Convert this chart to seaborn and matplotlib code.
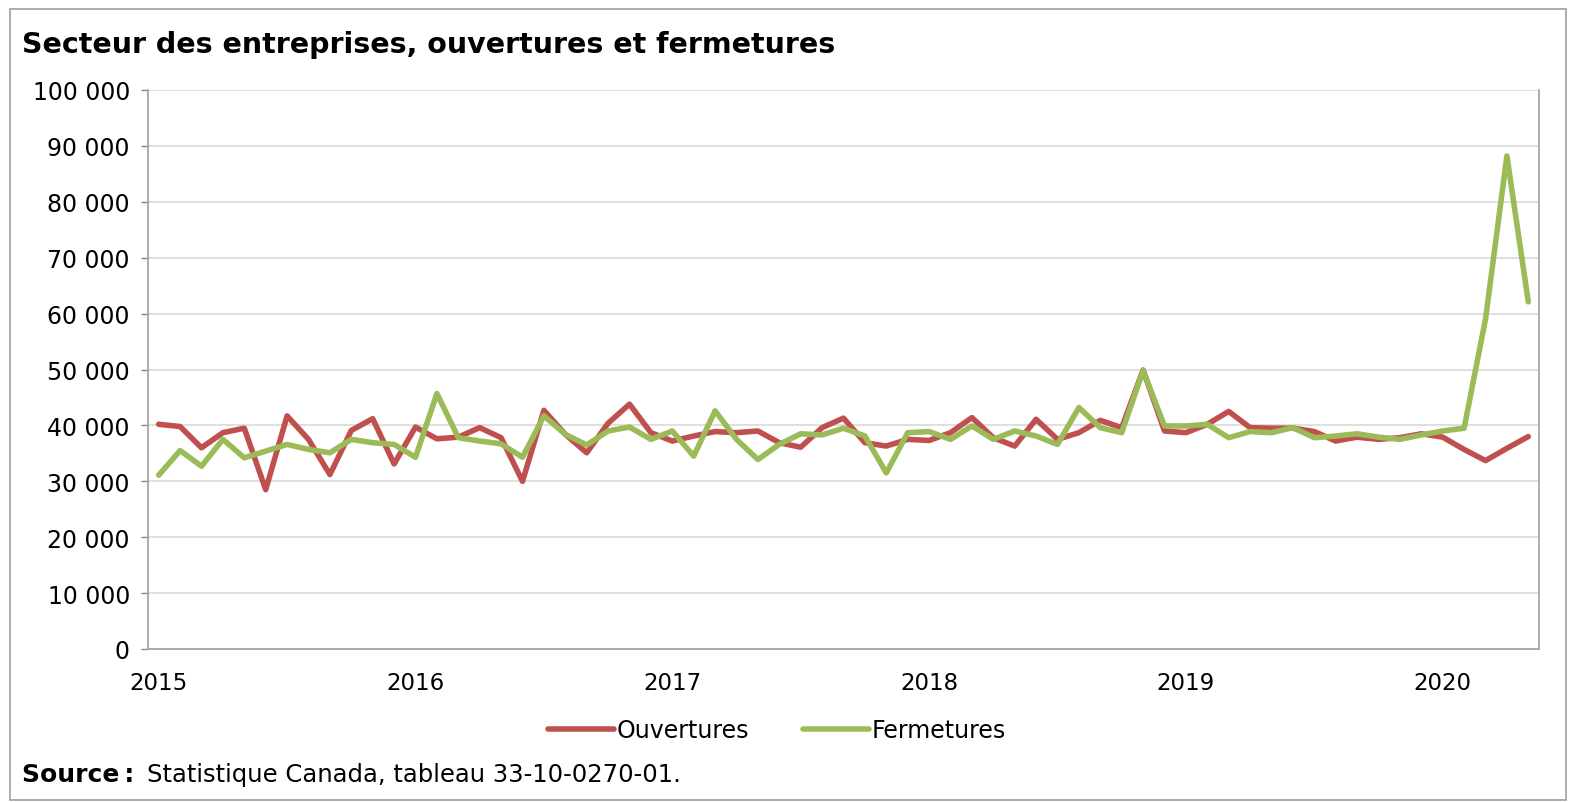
import pandas as pd
import seaborn as sns
import matplotlib.pyplot as plt
from matplotlib.ticker import FuncFormatter, MultipleLocator, FixedLocator
from matplotlib.patches import Rectangle

# Monthly values, Jan 2015 to May 2020
years = ["2015", "2016", "2017", "2018", "2019", "2020"]

ouvertures = [
    40200, 39800, 36000, 38700, 39500, 28500, 41700, 37500, 31200, 39100, 41200, 33100,
    39700, 37600, 37900, 39600, 37800, 30000, 42700, 38400, 35100, 40400, 43800, 38700,
    37200, 38100, 38900, 38700, 39000, 36900, 36100, 39600, 41300, 36900, 36300, 37500,
    37300, 38700, 41400, 37800, 36300, 41100, 37500, 38700, 40900, 39600, 49900, 39000,
    38700, 40200, 42500, 39600, 39500, 39500, 38900, 37200, 37900, 37500, 37800, 38500,
    37900, 35700, 33700, 35900, 38000,
]
fermetures = [
    31100, 35500, 32700, 37500, 34200, 35400, 36600, 35700, 35100, 37500, 36900, 36600,
    34300, 45700, 37800, 37200, 36700, 34300, 41700, 38400, 36500, 39000, 39700, 37500,
    39000, 34500, 42600, 37500, 33900, 36600, 38500, 38300, 39500, 38100, 31500, 38700,
    38900, 37500, 39900, 37500, 39000, 38100, 36600, 43200, 39600, 38700, 49800, 39900,
    39900, 40200, 37800, 38900, 38700, 39600, 37800, 38100, 38500, 37900, 37500, 38300,
    39000, 39500, 59000, 88200, 62100,
]

n = len(ouvertures)
df = pd.DataFrame({
    "mois": list(range(n)) * 2,
    "valeur": ouvertures + fermetures,
    "serie": ["Ouvertures"] * n + ["Fermetures"] * n,
})

sns.set_style("white")
plt.rcParams['font.family'] = ['DejaVu Sans']
plt.rcParams['text.color'] = 'black'
plt.rcParams['xtick.color'] = 'black'
plt.rcParams['ytick.color'] = 'black'

fig = plt.figure(figsize=(15.71, 8.03), dpi=100)
ax = fig.add_axes([148 / 1571, 1 - 650 / 803, (1539 - 148) / 1571, (650 - 91) / 803])

sns.lineplot(data=df, x="mois", y="valeur", hue="serie",
             palette={"Ouvertures": "#C0504D", "Fermetures": "#9BBB59"},
             linewidth=4, ax=ax, legend=True)

ax.set_xlim(-0.5, n - 0.5)
ax.set_ylim(0, 100000)
ax.yaxis.set_major_locator(MultipleLocator(10000))
ax.yaxis.set_major_formatter(FuncFormatter(lambda v, p: f"{int(v):,}".replace(",", " ")))
ax.grid(axis="y", color="#d9d9d9", linewidth=1.2)
ax.set_axisbelow(True)

ax.xaxis.set_major_locator(FixedLocator(list(range(0, n, 12))))
ax.set_xticklabels(years)
ax.xaxis.set_minor_locator(FixedLocator([k - 0.5 for k in range(n + 1)]))
ax.tick_params(axis="x", which="major", length=0, pad=16, labelsize=16.5)
ax.tick_params(axis="x", which="minor", length=4.5, direction="in", color="#868686", width=1)
ax.tick_params(axis="y", which="major", length=5, direction="out", color="#868686",
               width=1, pad=8, labelsize=17, left=True)

for side in ["left", "bottom", "right"]:
    ax.spines[side].set_color("#a6a6a6")
    ax.spines[side].set_linewidth(1.3)
ax.spines["top"].set_visible(False)
ax.set_xlabel("")
ax.set_ylabel("")

ax.legend(loc="upper center", bbox_to_anchor=(0.452, -0.085), ncol=2, frameon=False,
          fontsize=17, handlelength=2.8, handletextpad=0.1, columnspacing=2.3)

fig.text(22 / 1571, 1 - 45 / 803, "Secteur des entreprises, ouvertures et fermetures",
         fontsize=20.5, fontweight="bold", va="center", ha="left")
fig.text(22 / 1571, 1 - 775 / 803, "Source\u202f:", fontsize=18, fontweight="bold",
         va="center", ha="left")
fig.text(147 / 1571, 1 - 775 / 803, "Statistique Canada, tableau 33-10-0270-01.",
         fontsize=17.5, va="center", ha="left")

fig.patches.append(Rectangle((10 / 1571, 2 / 803), 1556 / 1571, 791 / 803,
                             transform=fig.transFigure, fill=False,
                             edgecolor="#a6a6a6", linewidth=1.3))

fig.savefig("out.png", dpi=100)
